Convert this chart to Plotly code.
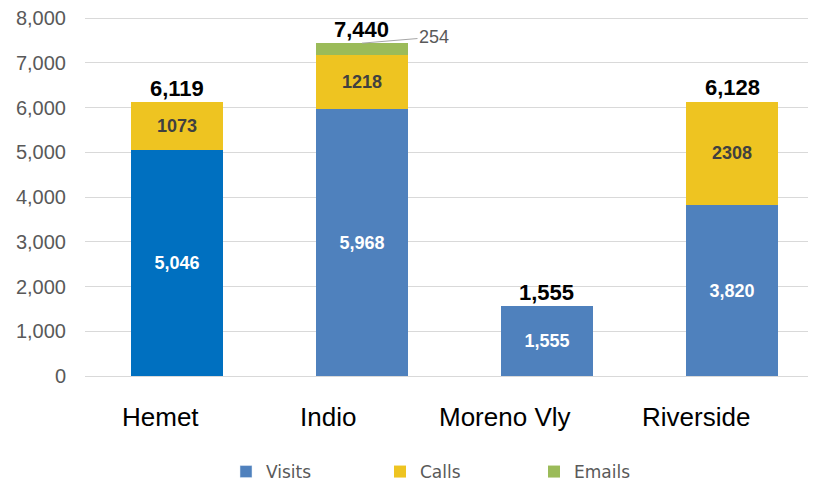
import plotly.graph_objects as go

categories = ["Hemet", "Indio", "Moreno Vly", "Riverside"]
visits = [5046, 5968, 1555, 3820]
calls = [1073, 1218, None, 2308]
emails = [None, 254, None, None]
totals = [6119, 7440, 1555, 6128]
y_ticks = [0, 1000, 2000, 3000, 4000, 5000, 6000, 7000, 8000]

C_VISITS = "#4F81BD"
C_VISITS_HEMET = "#0070C0"
C_CALLS = "#EEC421"
C_EMAILS = "#9BBB59"

# horizontal offset (px) of each category label relative to its bar, as in the reference
label_xshift = [-16, -34, -42, -36]

visit_colors = [C_VISITS_HEMET if c == "Hemet" else C_VISITS for c in categories]
calls_text = ["" if v is None else str(v) for v in calls]

fig = go.Figure()
fig.add_trace(go.Bar(
    x=categories, y=visits, name="Visits", showlegend=False,
    marker=dict(color=visit_colors, line=dict(width=0)),
    texttemplate="%{y:,}", textposition="inside", insidetextanchor="middle",
    textfont=dict(family="Liberation Sans, Arial", size=18, color="white", weight="bold"),
    width=0.5,
))
fig.add_trace(go.Bar(
    x=categories, y=calls, name="Calls",
    marker=dict(color=C_CALLS, line=dict(width=0)),
    text=calls_text, texttemplate="%{text}", textposition="inside", insidetextanchor="middle",
    textfont=dict(family="Liberation Sans, Arial", size=18, color="#404040", weight="bold"),
    width=0.5, legendrank=2,
))
fig.add_trace(go.Bar(
    x=categories, y=emails, name="Emails",
    marker=dict(color=C_EMAILS, line=dict(width=0)),
    textposition="none", width=0.5, legendrank=3,
))
# legend-only entry for Visits
fig.add_trace(go.Bar(
    x=[None], y=[None], name="Visits",
    marker=dict(color=C_VISITS), legendrank=1, hoverinfo="skip",
))

for c, t in zip(categories, totals):
    fig.add_annotation(
        x=c, y=t, text=f"<b>{t:,}</b>", showarrow=False, yshift=14,
        font=dict(family="Liberation Sans, Arial", size=22, color="black"),
    )

for c, s in zip(categories, label_xshift):
    fig.add_annotation(
        x=c, xref="x", y=0, yref="y", text=c, showarrow=False,
        xshift=s, yshift=-41, yanchor="middle",
        font=dict(family="Liberation Sans, Arial", size=26, color="black"),
    )

# Emails callout for Indio
idx = emails.index(254)
fig.add_annotation(
    x=categories[idx], y=totals[idx], text=f"{emails[idx]}",
    showarrow=True, arrowhead=0, arrowwidth=1, arrowcolor="#A6A6A6",
    ax=72, ay=-6, xanchor="center",
    font=dict(family="Liberation Sans, Arial", size=18, color="#595959"),
)

fig.update_layout(
    barmode="stack",
    width=816, height=482,
    margin=dict(l=77, r=8, t=9, b=114, autoexpand=False),
    paper_bgcolor="white", plot_bgcolor="white",
    showlegend=True,
    legend=dict(
        orientation="h", xref="container", x=218 / 816, xanchor="left",
        yref="container", y=18 / 482, yanchor="middle",
        font=dict(family="DejaVu Sans, Open Sans", size=17, color="#595959"),
        entrywidth=109, entrywidthmode="pixels", traceorder="normal",
    ),
    xaxis=dict(
        range=[-0.497, 3.454], showline=False, showgrid=False,
        showticklabels=False,
    ),
    yaxis=dict(
        range=[0, 8025], tickvals=y_ticks, tickformat=",",
        showgrid=True, gridcolor="#D9D9D9", gridwidth=1,
        zeroline=True, zerolinecolor="#D9D9D9", zerolinewidth=1,
        tickfont=dict(family="Liberation Sans, Arial", size=20, color="#595959"),
        ticklabelstandoff=18, ticklabeloverflow="allow",
    ),
)

fig.write_html("out.html")
